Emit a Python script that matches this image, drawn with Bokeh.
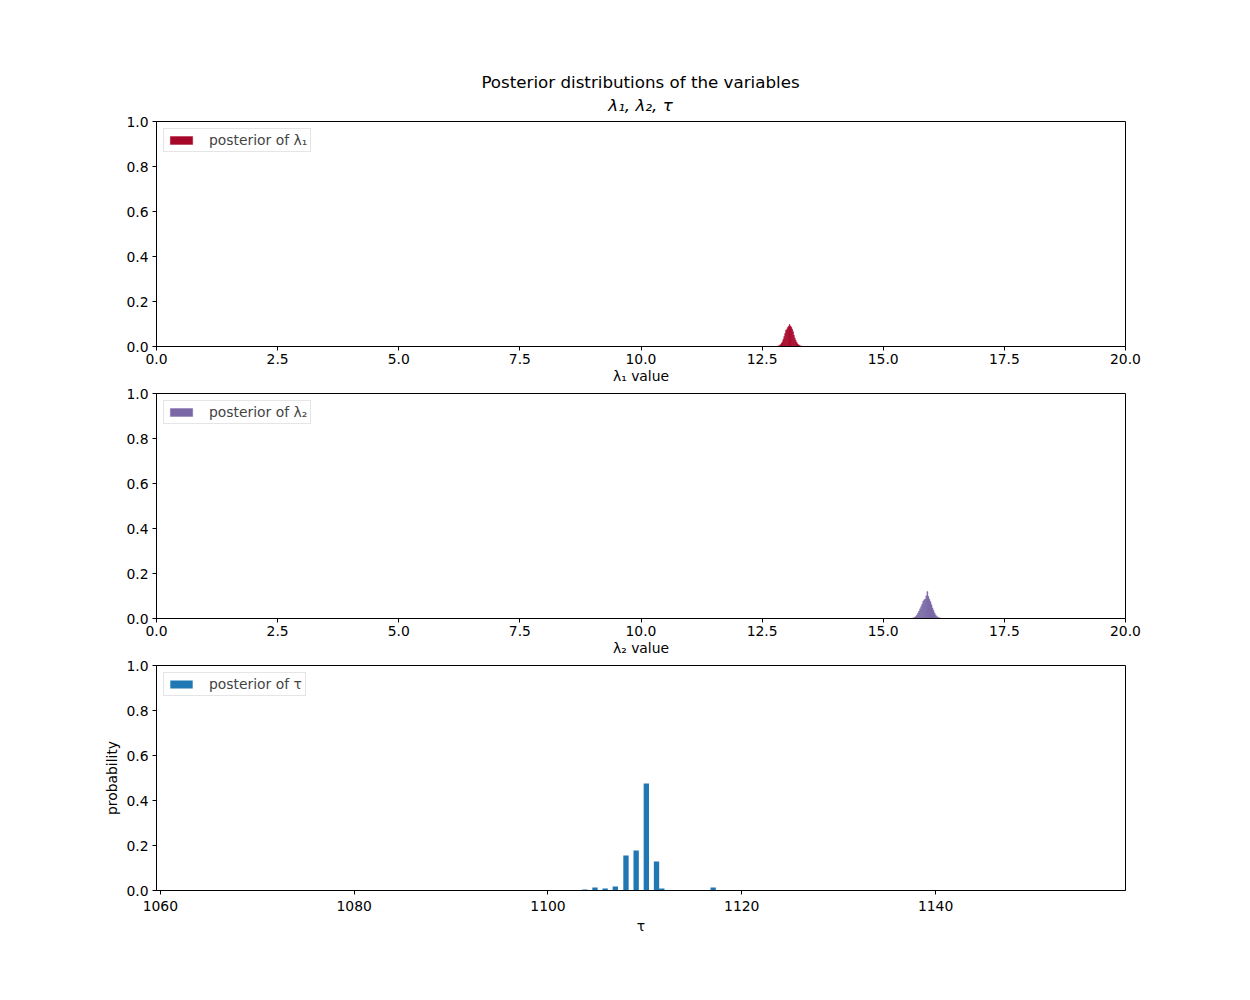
import numpy as np
from bokeh.plotting import figure
from bokeh.layouts import column
from bokeh.models import Range1d, FixedTicker, NumeralTickFormatter, Div
from bokeh.embed import file_html
from bokeh.resources import INLINE

# ---------------- data ----------------
lam1_range = (12.80, 13.35)
lam1_probs = [0.001, 0.001, 0.003, 0.005, 0.009, 0.014, 0.021, 0.032, 0.044, 0.058,
              0.072, 0.076, 0.085, 0.089, 0.098, 0.091, 0.086, 0.077, 0.066, 0.050,
              0.037, 0.027, 0.019, 0.012, 0.008, 0.005, 0.003, 0.002, 0.001, 0.001]

lam2_range = (15.58, 16.22)
lam2_probs = [0.001, 0.002, 0.003, 0.006, 0.010, 0.016, 0.024, 0.033, 0.043, 0.053,
              0.064, 0.077, 0.083, 0.087, 0.101, 0.120, 0.098, 0.086, 0.075, 0.061,
              0.047, 0.036, 0.025, 0.016, 0.010, 0.006, 0.004, 0.002, 0.001, 0.001]

tau_values = [1103.8, 1104.85, 1105.9, 1106.95, 1108.05, 1109.1, 1110.15, 1111.2, 1111.75, 1117.05]
tau_probs = [0.004, 0.013, 0.009, 0.018, 0.156, 0.178, 0.476, 0.129, 0.009, 0.013]

lam_ticks = [0, 2.5, 5, 7.5, 10, 12.5, 15, 17.5, 20]
tau_ticks = [1060, 1080, 1100, 1120, 1140]
y_ticks = [0, 0.2, 0.4, 0.6, 0.8, 1.0]

title_main = "Posterior distributions of the variables"
title_sub = "λ₁, λ₂, τ"

FONT = "DejaVu Sans"
FS = "13.9px"

def style(p, xlabel, ylabel=None, lstand=3, astand=1):
    p.grid.visible = False
    p.outline_line_color = "black"
    p.outline_line_alpha = 1
    p.outline_line_width = 1
    for ax in (p.xaxis[0], p.yaxis[0]):
        ax.axis_line_color = "black"
        ax.major_tick_line_color = "black"
        ax.major_tick_out = 4
        ax.major_tick_in = 0
        ax.minor_tick_line_color = None
        ax.major_label_text_font = FONT
        ax.major_label_text_font_size = FS
        ax.major_label_text_color = "black"
        ax.axis_label_text_font = FONT
        ax.axis_label_text_font_size = FS
        ax.axis_label_text_font_style = "normal"
        ax.axis_label_text_color = "black"
    p.xaxis[0].axis_label = xlabel
    p.xaxis[0].major_label_standoff = lstand
    p.xaxis[0].axis_label_standoff = astand
    p.yaxis[0].ticker = FixedTicker(ticks=y_ticks)
    p.yaxis[0].formatter = NumeralTickFormatter(format="0.0")
    p.yaxis[0].major_label_standoff = 4
    if ylabel:
        p.yaxis[0].axis_label = ylabel
        p.yaxis[0].axis_label_standoff = 3

def legend_style(p):
    lg = p.legend[0]
    lg.location = "top_left"
    lg.margin = 7
    lg.padding = 3
    lg.label_text_font = FONT
    lg.label_text_font_size = FS
    lg.label_height = 14
    lg.label_standoff = 14
    lg.glyph_width = 28
    lg.glyph_height = 10
    lg.border_line_color = "#cccccc"
    lg.border_line_width = 1
    lg.background_fill_alpha = 0.8

def make_fig(height, top, bottom, xr):
    return figure(width=1250, height=height, min_border_left=156, min_border_right=125,
                  min_border_top=top, min_border_bottom=bottom,
                  x_range=xr, y_range=Range1d(0, 1),
                  output_backend="svg", toolbar_location=None)

# ---- title block ----
title_html = (
    '<div style="position:relative;width:1250px;height:114px;'
    'font-family:\'DejaVu Sans\';font-size:16.7px;color:black;line-height:20px;">'
    '<div style="position:absolute;left:0;width:1281px;top:72px;text-align:center;">'
    + title_main + '</div>'
    '<div style="position:absolute;left:0;width:1281px;top:95px;text-align:center;'
    'font-style:italic;">' + title_sub + '</div></div>'
)
head = Div(text=title_html, width=1250, height=114, margin=0)

# ---- lambda 1 ----
p1 = make_fig(272, 7, 40, Range1d(0, 20))
e1 = np.linspace(lam1_range[0], lam1_range[1], len(lam1_probs) + 1)
p1.quad(left=e1[:-1], right=e1[1:], bottom=0, top=lam1_probs,
        fill_color="#A60628", line_color="#A60628", line_width=0.4,
        legend_label="posterior of λ₁")
style(p1, "λ₁ value")
p1.xaxis[0].ticker = FixedTicker(ticks=lam_ticks)
p1.xaxis[0].formatter = NumeralTickFormatter(format="0.0")
legend_style(p1)

# ---- lambda 2 ----
p2 = make_fig(272, 7, 40, Range1d(0, 20))
e2 = np.linspace(lam2_range[0], lam2_range[1], len(lam2_probs) + 1)
p2.quad(left=e2[:-1], right=e2[1:], bottom=0, top=lam2_probs,
        fill_color="#7A68A6", line_color="#7A68A6", line_width=0.4,
        legend_label="posterior of λ₂")
style(p2, "λ₂ value")
p2.xaxis[0].ticker = FixedTicker(ticks=lam_ticks)
p2.xaxis[0].formatter = NumeralTickFormatter(format="0.0")
legend_style(p2)

# ---- tau ----
p3 = make_fig(342, 7, 110, Range1d(1059.6, 1159.6))
p3.vbar(x=tau_values, width=0.55, bottom=0, top=tau_probs,
        fill_color="#1f77b4", line_color=None, legend_label="posterior of τ")
style(p3, "τ", "probability", lstand=6, astand=4)
p3.xaxis[0].ticker = FixedTicker(ticks=tau_ticks)
p3.xaxis[0].formatter = NumeralTickFormatter(format="0")
legend_style(p3)

layout = column(head, p1, p2, p3, spacing=0)
open("out.html", "w").write(file_html(layout, INLINE))
